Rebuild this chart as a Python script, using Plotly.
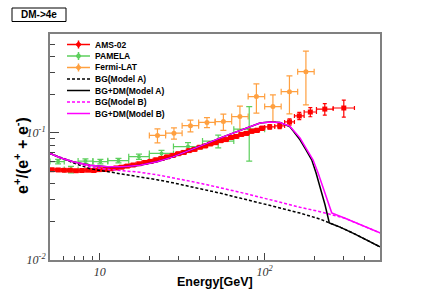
import plotly.graph_objects as go

# ---------------- data ----------------
# AMS-02 positron fraction
ams_lo = [4.92, 5.37, 5.85, 6.36, 6.91, 7.50, 8.14, 8.82, 9.56, 10.3,
          11.2, 12.1, 13.0, 14.1, 15.3, 16.6, 18.0, 19.5, 21.1, 22.8,
          24.7, 26.7, 28.8, 31.1, 33.5, 36.1, 38.9, 41.9, 45.1, 48.5,
          52.2, 56.1, 60.3, 64.8, 69.7, 74.9, 80.5, 86.5, 93.0, 100.0,
          115.1, 132.1, 151.5, 173.5, 206.0, 260.0]
ams_hi = [5.37, 5.85, 6.36, 6.91, 7.50, 8.14, 8.82, 9.56, 10.3, 11.2,
          12.1, 13.0, 14.1, 15.3, 16.6, 18.0, 19.5, 21.1, 22.8, 24.7,
          26.7, 28.8, 31.1, 33.5, 36.1, 38.9, 41.9, 45.1, 48.5, 52.2,
          56.1, 60.3, 64.8, 69.7, 74.9, 80.5, 86.5, 93.0, 100.0, 115.1,
          132.1, 151.5, 173.5, 206.0, 260.0, 350.0]
ams_e = [5.14, 5.61, 6.10, 6.63, 7.20, 7.81, 8.48, 9.19, 9.93, 10.75,
         11.65, 12.55, 13.55, 14.7, 15.95, 17.3, 18.75, 20.3, 21.95, 23.75,
         25.7, 27.75, 29.95, 32.3, 34.8, 37.5, 40.4, 43.5, 46.8, 50.3,
         54.1, 58.2, 62.5, 67.2, 72.3, 77.6, 83.4, 89.7, 96.4, 107.3,
         123.3, 141.5, 162.1, 189.1, 231.4, 301.7]
ams_v = [0.0513, 0.0511, 0.0508, 0.0509, 0.0504, 0.0506, 0.0509, 0.0506, 0.0514, 0.0515,
         0.0522, 0.0530, 0.0537, 0.0548, 0.0559, 0.0572, 0.0585, 0.0597, 0.0615, 0.0630,
         0.0648, 0.0665, 0.0686, 0.0702, 0.0726, 0.0742, 0.0771, 0.0789, 0.0818, 0.0838,
         0.0869, 0.0886, 0.0921, 0.0938, 0.0974, 0.0992, 0.1031, 0.1046, 0.1088, 0.1115,
         0.1135, 0.1220, 0.1360, 0.1460, 0.1540, 0.1570]
ams_err = [0.0010, 0.0010, 0.0010, 0.0010, 0.0010, 0.0010, 0.0011, 0.0011, 0.0011, 0.0011,
           0.0012, 0.0012, 0.0012, 0.0012, 0.0013, 0.0013, 0.0013, 0.0014, 0.0014, 0.0015,
           0.0015, 0.0016, 0.0017, 0.0017, 0.0018, 0.0019, 0.0020, 0.0021, 0.0022, 0.0023,
           0.0024, 0.0026, 0.0028, 0.0030, 0.0032, 0.0034, 0.0036, 0.0038, 0.0040, 0.0045,
           0.0055, 0.0070, 0.0090, 0.0120, 0.0160, 0.0240]

# PAMELA positron fraction
pam_lo = [5.0, 6.1, 7.4, 9.1, 11.2, 15.0, 20.0, 28.0, 42.0, 65.0]
pam_hi = [6.1, 7.4, 9.1, 11.2, 15.0, 20.0, 28.0, 42.0, 65.0, 100.0]
pam_e = [5.6, 6.7, 8.2, 10.1, 13.0, 17.3, 23.7, 34.3, 52.3, 80.6]
pam_v = [0.0595, 0.0515, 0.0600, 0.0595, 0.0605, 0.0650, 0.0690, 0.0780, 0.0862, 0.1070]
pam_err_up = [0.0025, 0.0030, 0.0025, 0.0025, 0.0025, 0.0030, 0.0040, 0.0060, 0.0100, 0.0540]
pam_err_dn = [0.0025, 0.0030, 0.0025, 0.0025, 0.0025, 0.0030, 0.0040, 0.0060, 0.0100, 0.0470]

# Fermi-LAT positron fraction
fermi_lo = [20.0, 25.1, 31.6, 39.8, 50.1, 63.1, 79.4, 100.0, 125.9, 158.5]
fermi_hi = [25.1, 31.6, 39.8, 50.1, 63.1, 79.4, 100.0, 125.9, 158.5, 199.5]
fermi_e = [22.4, 28.2, 35.5, 44.7, 56.2, 70.8, 89.1, 112.2, 141.3, 177.8]
fermi_v = [0.0956, 0.0995, 0.1140, 0.1210, 0.1227, 0.1344, 0.1930, 0.1610, 0.2110, 0.3030]
fermi_err = [0.012, 0.010, 0.012, 0.011, 0.018, 0.028, 0.050, 0.038, 0.070, 0.137]

# Model curves
bgA_e = [5.00, 5.75, 6.90, 8.74, 11.08, 13.85, 17.55, 22.26, 27.82, 35.28, 44.73, 55.9,
         70.9, 93.7, 123.8, 163.7, 216.4, 246.5, 286.1, 352.8, 434.9, 500.0]
bgA_v = [0.0690, 0.0637, 0.0582, 0.0522, 0.0497, 0.0477, 0.0454, 0.0428, 0.0405, 0.0380, 0.0357, 0.0332,
         0.0307, 0.0282, 0.0257, 0.0234, 0.0210, 0.0196, 0.01815, 0.0160, 0.01397, 0.01269]

dmA_e = [5.00, 5.75, 6.90, 8.74, 11.08, 13.85, 17.55, 22.26, 27.82, 35.28, 44.73, 55.9,
         70.9, 93.7, 107.7, 123.8, 142.4, 163.7, 178.0, 192.8, 204.7, 216.4, 232.1, 246.5,
         286.1, 352.8, 434.9, 500.0]
dmA_v = [0.0690, 0.0637, 0.0592, 0.0556, 0.0541, 0.0541, 0.0556, 0.0592, 0.0648, 0.0729, 0.0827, 0.0930,
         0.1046, 0.1198, 0.1220, 0.1209, 0.1115, 0.0881, 0.0736, 0.0614, 0.0486, 0.0377, 0.0272, 0.0196,
         0.01815, 0.0160, 0.01397, 0.01269]

bgB_e = [5.00, 5.75, 6.90, 8.74, 11.08, 13.85, 17.55, 22.26, 27.82, 35.28, 44.73, 55.9,
         70.9, 93.7, 123.8, 163.7, 216.4, 254.9, 306.8, 378.3, 500.0]
bgB_v = [0.0690, 0.0642, 0.0592, 0.0541, 0.0517, 0.0504, 0.0490, 0.0468, 0.0444, 0.0417, 0.0391, 0.0367,
         0.0341, 0.0312, 0.0284, 0.0260, 0.0240, 0.0227, 0.0213, 0.0190, 0.01634]

dmB_e = [5.00, 5.75, 6.90, 8.74, 11.08, 13.85, 17.55, 22.26, 27.82, 35.28, 44.73, 55.9,
         70.9, 93.7, 107.7, 123.8, 142.4, 163.7, 180.6, 196.3, 210.5, 225.7, 238.7, 254.9,
         306.8, 378.3, 500.0]
dmB_v = [0.0690, 0.0637, 0.0592, 0.0556, 0.0541, 0.0541, 0.0556, 0.0592, 0.0648, 0.0729, 0.0827, 0.0930,
         0.1046, 0.1198, 0.1220, 0.1209, 0.1125, 0.0914, 0.0736, 0.0614, 0.0486, 0.0377, 0.0298, 0.0235,
         0.0213, 0.0190, 0.01634]

x_ticks = [10, 100]
x_ticktext = ["10", "10<sup>2</sup>"]
y_ticks = [0.01, 0.1]
y_ticktext = ["10<sup>-2</sup>", "10<sup>-1</sup>"]

RED = "#ff0000"
GREEN = "#5ccf5c"
ORANGE = "#ffa040"
MAGENTA = "#ff00ff"

# ---------------- layout helpers (pixel -> paper) ----------------
W, H = 430, 295
L, R, T, B = 50, 50, 34, 35
PW, PH = W - L - R, H - T - B


def px(x):
    return (x - L) / PW


def py(y):
    return (H - B - y) / PH


fig = go.Figure()


def xerr(e, lo, hi):
    return dict(type="data", symmetric=False,
                array=[h - c for c, h in zip(e, hi)],
                arrayminus=[c - l for c, l in zip(e, lo)],
                thickness=1.2, width=2)


fig.add_trace(go.Scatter(
    x=fermi_e, y=fermi_v, mode="markers", name="Fermi-LAT",
    marker=dict(color=ORANGE, size=5, symbol="circle"),
    error_x=dict(xerr(fermi_e, fermi_lo, fermi_hi), color=ORANGE, width=3),
    error_y=dict(type="data", array=fermi_err, color=ORANGE, thickness=1.2, width=3),
    showlegend=False))

fig.add_trace(go.Scatter(
    x=pam_e, y=pam_v, mode="markers", name="PAMELA",
    marker=dict(color=GREEN, size=4, symbol="circle"),
    error_x=dict(xerr(pam_e, pam_lo, pam_hi), color=GREEN, width=3),
    error_y=dict(type="data", symmetric=False, array=pam_err_up, arrayminus=pam_err_dn,
                 color=GREEN, thickness=1.2, width=3),
    showlegend=False))

fig.add_trace(go.Scatter(
    x=ams_e, y=ams_v, mode="markers", name="AMS-02",
    marker=dict(color=RED, size=5, symbol="square"),
    error_x=dict(xerr(ams_e, ams_lo, ams_hi), color=RED, width=2),
    error_y=dict(type="data", array=ams_err, color=RED, thickness=1.2, width=2),
    showlegend=False))

fig.add_trace(go.Scatter(x=bgA_e, y=bgA_v, mode="lines", name="BG(Model A)",
                         line=dict(color="black", width=1.5, dash="3px,2px"), showlegend=False))
fig.add_trace(go.Scatter(x=bgB_e, y=bgB_v, mode="lines", name="BG(Model B)",
                         line=dict(color=MAGENTA, width=1.5, dash="3px,2px"), showlegend=False))
fig.add_trace(go.Scatter(x=dmA_e, y=dmA_v, mode="lines", name="BG+DM(Model A)",
                         line=dict(color="black", width=1.5), showlegend=False))
fig.add_trace(go.Scatter(x=dmB_e, y=dmB_v, mode="lines", name="BG+DM(Model B)",
                         line=dict(color=MAGENTA, width=1.5), showlegend=False))

shapes = []
annotations = []

# custom legend
legend_items = [
    ("AMS-02", RED, "solid", True),
    ("PAMELA", GREEN, "solid", True),
    ("Fermi-LAT", ORANGE, "solid", True),
    ("BG(Model A)", "black", "3px,2px", False),
    ("BG+DM(Model A)", "black", "solid", False),
    ("BG(Model B)", MAGENTA, "3px,2px", False),
    ("BG+DM(Model B)", MAGENTA, "solid", False),
]
for i, (name, col, dash, has_marker) in enumerate(legend_items):
    yy = 44.5 + i * 11.5
    shapes.append(dict(type="line", xref="paper", yref="paper",
                       x0=px(67), x1=px(90), y0=py(yy), y1=py(yy),
                       line=dict(color=col, width=1.5, dash=dash)))
    if has_marker:
        shapes.append(dict(type="line", xref="paper", yref="paper",
                           x0=px(78.5), x1=px(78.5), y0=py(yy - 4), y1=py(yy + 4),
                           line=dict(color=col, width=1.5)))
        shapes.append(dict(type="circle", xref="paper", yref="paper",
                           x0=px(76.5), x1=px(80.5), y0=py(yy + 2), y1=py(yy - 2),
                           fillcolor=col, line=dict(color=col, width=1)))
    annotations.append(dict(xref="paper", yref="paper", x=px(93), y=py(yy),
                            xanchor="left", yanchor="middle", showarrow=False,
                            text=name,
                            font=dict(family="Liberation Sans, Arial", size=8.5,
                                      color="black", weight="bold")))

# title box
shapes.append(dict(type="rect", xref="paper", yref="paper",
                   x0=px(12), x1=px(66), y0=py(21.5), y1=py(8),
                   line=dict(color="black", width=1), fillcolor="white"))
annotations.append(dict(xref="paper", yref="paper", x=px(39), y=py(15),
                        xanchor="center", yanchor="middle", showarrow=False,
                        text="DM-&gt;4e",
                        font=dict(family="Liberation Sans, Arial", size=10,
                                  color="black", weight="bold")))

# axis titles
annotations.append(dict(xref="paper", yref="paper", x=px(215), y=py(282),
                        xanchor="center", yanchor="middle", showarrow=False,
                        text="Energy[GeV]",
                        font=dict(family="Liberation Sans, Arial", size=12.5,
                                  color="black", weight="bold")))
annotations.append(dict(xref="paper", yref="paper", x=px(21), y=py(156),
                        xanchor="center", yanchor="middle", showarrow=False,
                        textangle=-90,
                        text="e<sup>+</sup>/(e<sup>+</sup> + e<sup>-</sup>)",
                        font=dict(family="Liberation Sans, Arial", size=16,
                                  color="black", weight="bold")))

tickfont = dict(family="Liberation Serif, Times New Roman", size=12,
                color="#333333", style="italic")

fig.update_layout(
    width=W, height=H,
    margin=dict(l=L, r=R, t=T, b=B, pad=0),
    paper_bgcolor="white", plot_bgcolor="white",
    showlegend=False,
    shapes=shapes, annotations=annotations,
    xaxis=dict(type="log", range=[0.69897, 2.69897], autorange=False,
               tickmode="array", tickvals=x_ticks, ticktext=x_ticktext,
               ticks="inside", ticklen=7, tickwidth=1, tickcolor="#444",
               tickfont=tickfont,
               minor=dict(tickmode="array",
                          tickvals=[6, 7, 8, 9, 20, 30, 40, 50, 60, 70, 80, 90,
                                    200, 300, 400, 500],
                          ticks="inside", ticklen=4, tickwidth=1, tickcolor="#444",
                          showgrid=False),
               showline=True, linecolor="#808080", linewidth=2, mirror=True,
               showgrid=False, zeroline=False),
    yaxis=dict(type="log", range=[-2, -0.2218], autorange=False,
               tickmode="array", tickvals=y_ticks, ticktext=y_ticktext,
               ticks="inside", ticklen=9, tickwidth=1, tickcolor="#444",
               tickfont=tickfont,
               minor=dict(tickmode="array",
                          tickvals=[0.02, 0.03, 0.04, 0.05, 0.06, 0.07, 0.08, 0.09,
                                    0.2, 0.3, 0.4, 0.5],
                          ticks="inside", ticklen=5, tickwidth=1, tickcolor="#444",
                          showgrid=False),
               showline=True, linecolor="#808080", linewidth=2, mirror=True,
               showgrid=False, zeroline=False),
)

fig.write_html("out.html",
               config={"displayModeBar": False},
               post_script="document.body.style.margin='0';"
                           "document.body.style.overflow='hidden';")
